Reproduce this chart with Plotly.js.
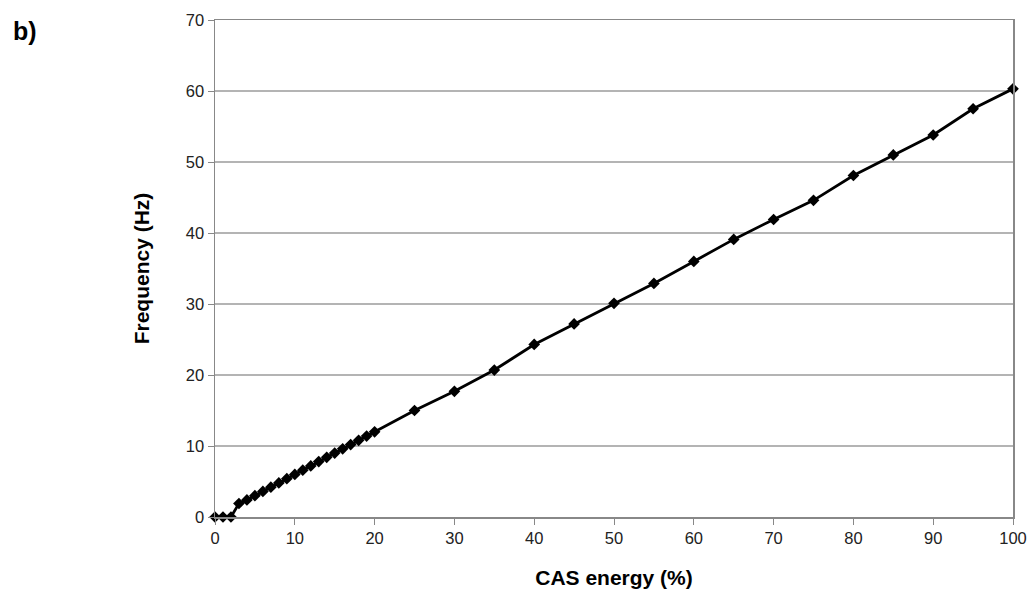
<!DOCTYPE html>
<html>
<head>
<meta charset="utf-8">
<script src="https://cdn.plot.ly/plotly-3.0.1.min.js"></script>
<style>html,body{margin:0;padding:0;background:#fff;}#chart{width:1033px;height:599px;}</style>
</head>
<body>
<div id="chart"></div>
<script>
const casEnergy = [0,1,2,3,4,5,6,7,8,9,10,11,12,13,14,15,16,17,18,19,20,25,30,35,40,45,50,55,60,65,70,75,80,85,90,95,100];
const frequency = [0,0,0,1.9,2.4,3.0,3.6,4.2,4.8,5.4,6.0,6.6,7.2,7.8,8.4,9.0,9.6,10.2,10.8,11.4,12.0,15.0,17.7,20.7,24.3,27.2,30.1,32.9,36.0,39.1,41.9,44.6,48.1,51.0,53.8,57.5,60.3];
const xTitle = "CAS energy (%)";
const yTitle = "Frequency (Hz)";
const panelLabel = "b)";

const trace = {
  x: casEnergy, y: frequency, type: 'scatter', mode: 'lines+markers',
  line: {color: '#000', width: 2.8},
  marker: {symbol: 'diamond', size: 9, color: '#000'},
  cliponaxis: false, hoverinfo: 'skip'
};
const axisFont = {family: 'Arial, Liberation Sans, sans-serif', size: 16.5, color: '#222'};
const titleFont = {family: 'Arial, Liberation Sans, sans-serif', size: 21, color: '#000', weight: 'bold'};
const layout = {
  width: 1033, height: 599,
  margin: {l: 215, r: 20, t: 20, b: 82},
  paper_bgcolor: '#fff', plot_bgcolor: '#fff',
  showlegend: false,
  xaxis: {
    range: [0, 100], dtick: 10, tick0: 0,
    showgrid: false, zeroline: false,
    showline: true, linecolor: '#888', linewidth: 1.5, mirror: true,
    ticks: 'outside', ticklen: 6, tickcolor: '#888', tickwidth: 1,
    tickfont: axisFont,
    title: {text: xTitle, font: titleFont, standoff: 24}
  },
  yaxis: {
    range: [0, 70], dtick: 10, tick0: 0,
    showgrid: true, gridcolor: '#b4b4b4', gridwidth: 1.2, zeroline: false,
    showline: true, linecolor: '#888', linewidth: 1.5, mirror: true,
    ticks: 'outside', ticklen: 6, tickcolor: '#888', tickwidth: 1,
    tickfont: axisFont,
    title: {text: yTitle, font: titleFont, standoff: 30}
  },
  annotations: [{
    text: panelLabel, xref: 'paper', yref: 'paper', x: -0.256, y: 1.01,
    xanchor: 'left', yanchor: 'top', showarrow: false,
    font: {family: 'Arial, Liberation Sans, sans-serif', size: 25, color: '#000', weight: 'bold'}
  }]
};
Plotly.newPlot('chart', [trace], layout, {displayModeBar: false, staticPlot: true});
</script>
</body>
</html>
